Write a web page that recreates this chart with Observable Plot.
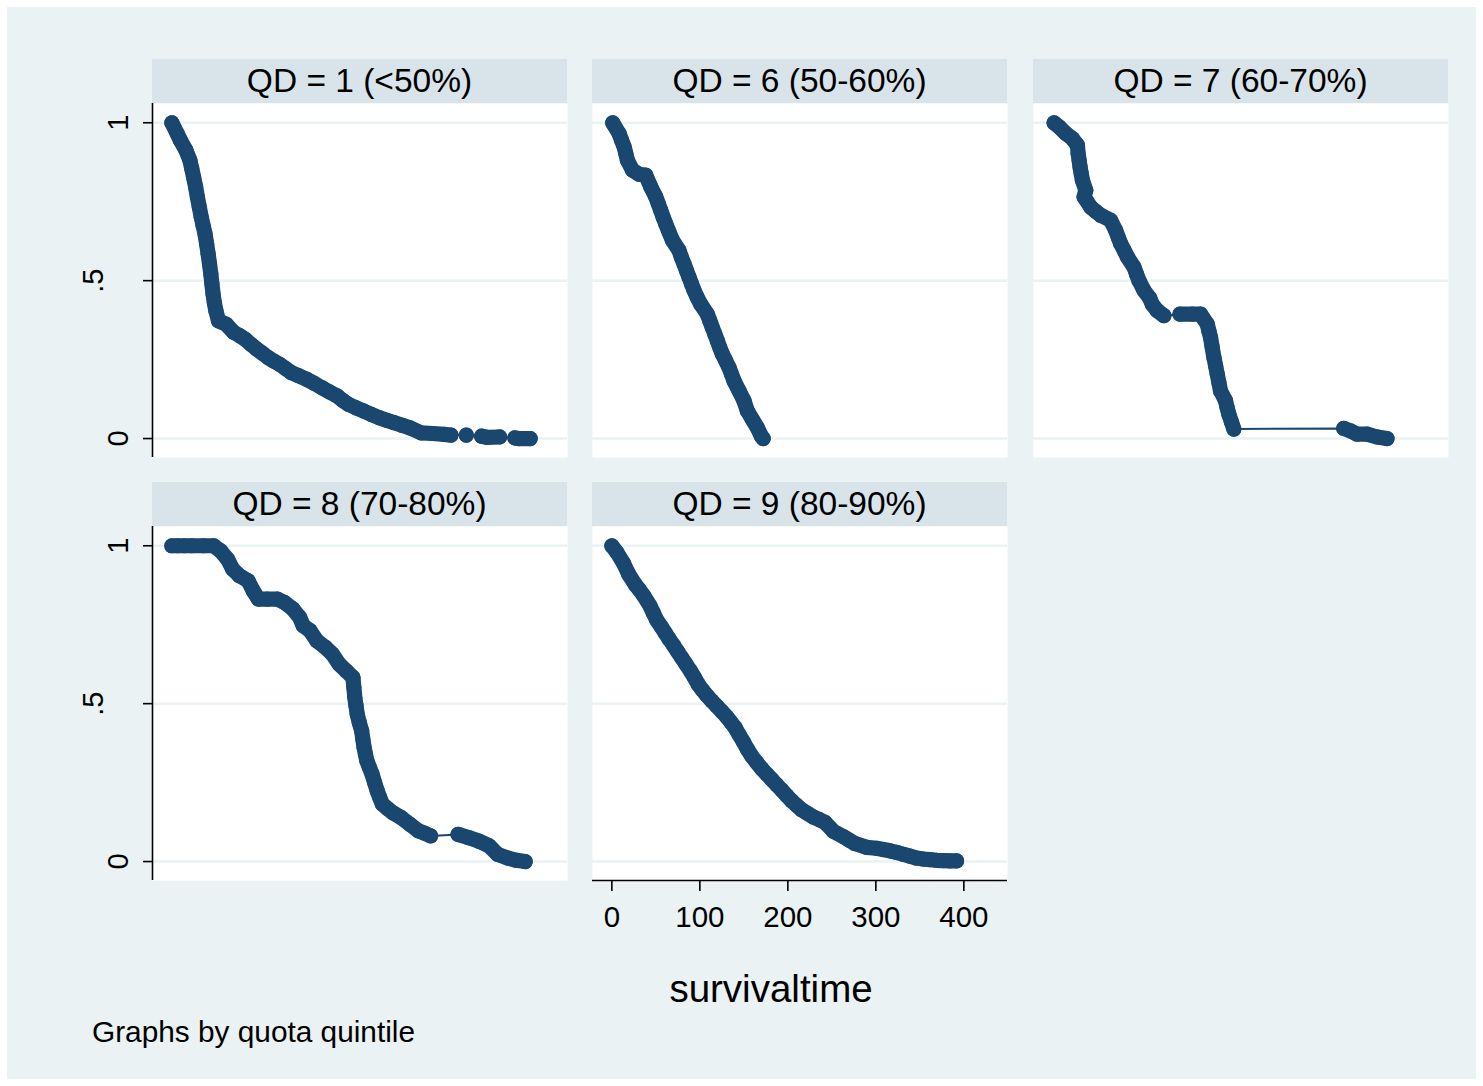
<!DOCTYPE html>
<html>
<head>
<meta charset="utf-8">
<script src="https://cdn.jsdelivr.net/npm/d3@7"></script>
<script src="https://cdn.jsdelivr.net/npm/@observablehq/plot@0.6"></script>
<style>
  html, body { margin: 0; padding: 0; background: #ffffff; }
  #root { position: relative; width: 1483px; height: 1086px; background: #ffffff; font-family: "Liberation Sans", Arial, Helvetica, sans-serif; color: #000; }
  #bg { position: absolute; left: 7px; top: 7px; width: 1469px; height: 1072px; background: #eaf2f3; }
  .strip { position: absolute; height: 44px; line-height: 44px; background: #d9e4ea; text-align: center; font-size: 33.5px; white-space: nowrap; }
  .panel { position: absolute; }
  .panel svg { overflow: visible; background: transparent; }
  .txt { position: absolute; white-space: nowrap; }
</style>
</head>
<body>
<div id="root">
  <div id="bg"></div>
</div>
<script>
// ---------- data ----------
const panelLabels = ["QD = 1 (<50%)", "QD = 6 (50-60%)", "QD = 7 (60-70%)", "QD = 8 (70-80%)", "QD = 9 (80-90%)"];
const xTicks = [0, 100, 200, 300, 400];
const yTicks = [0, 0.5, 1];
const yTickLabels = ["0", ".5", "1"];
const xTitle = "survivaltime";
const note = "Graphs by quota quintile";

// survival time / survival value per quintile
const qd1Time = [0, 6, 9.6, 16, 20.5, 22.6, 24.7, 27, 29, 31.2, 33.4, 35.5, 37.7, 39.5, 41.2, 42.8, 44.3, 45.5, 46.8, 48.3, 50, 53, 61.7, 70.4, 77, 83.5, 90, 96.5, 103, 109.6, 116, 122.6, 129, 135.6, 144, 153, 161.7, 170.4, 179, 187.8, 194, 200.8, 209.5, 218.2, 227, 235.6, 244, 252.9, 261.6, 270.3, 283.3, 296.4, 309.4, 317.2, 334.6, 352, 358, 372.4, 389.8, 394.2, 407.2];
const qd1Surv = [1, 0.966, 0.945, 0.913, 0.881, 0.855, 0.828, 0.797, 0.765, 0.733, 0.701, 0.675, 0.648, 0.617, 0.585, 0.553, 0.521, 0.49, 0.458, 0.43, 0.405, 0.373, 0.362, 0.336, 0.326, 0.314, 0.298, 0.283, 0.27, 0.256, 0.245, 0.235, 0.222, 0.209, 0.199, 0.188, 0.175, 0.161, 0.148, 0.135, 0.121, 0.108, 0.097, 0.087, 0.076, 0.066, 0.058, 0.050, 0.042, 0.034, 0.018, 0.016, 0.013, 0.011, 0.011, 0.0074, 0.004, 0.005, 0.002, 0, 0];

const qd6Time = [1, 8.2, 11, 13.9, 15.8, 17.7, 23.4, 30.9, 38.5, 44.2, 49.9, 52.7, 55.5, 58.3, 61.2, 65, 68.8, 76.3, 79, 82, 84.8, 87.7, 90.5, 93.4, 97, 100.9, 108.5, 111.3, 114.1, 117, 119.8, 122.6, 125.5, 129.3, 133.1, 136, 138.8, 144.4, 150.1, 153.9, 159.6, 165.2, 169.8, 172];
const qd6Surv = [1, 0.966, 0.945, 0.924, 0.903, 0.881, 0.850, 0.837, 0.834, 0.797, 0.765, 0.744, 0.723, 0.701, 0.680, 0.654, 0.628, 0.596, 0.574, 0.553, 0.532, 0.511, 0.490, 0.469, 0.447, 0.426, 0.394, 0.373, 0.352, 0.331, 0.310, 0.289, 0.268, 0.247, 0.225, 0.204, 0.183, 0.152, 0.120, 0.088, 0.061, 0.035, 0.008, 0];

const qd7Time = [1.4, 7.1, 14.7, 22.2, 27.9, 28.7, 29.8, 30.9, 32.2, 33.6, 37.4, 35.5, 43, 48.5, 54.4, 65.7, 71.4, 74.2, 77.1, 81, 84.7, 92.2, 95, 97.9, 103.6, 110, 113, 118.7, 126.2, 144.4, 158.4, 167.8, 175.4, 177.3, 179.2, 181, 183, 185, 186.8, 188.7, 190.5, 196.2, 198, 200, 203, 205.7, 330.5, 338.1, 345.6, 357, 368.3, 379.7];
const qd7Surv = [1, 0.987, 0.966, 0.950, 0.929, 0.903, 0.882, 0.860, 0.839, 0.818, 0.786, 0.765, 0.733, 0.72, 0.707, 0.691, 0.659, 0.638, 0.617, 0.596, 0.575, 0.543, 0.521, 0.500, 0.469, 0.445, 0.425, 0.405, 0.389, 0.394, 0.394, 0.394, 0.363, 0.341, 0.320, 0.29, 0.257, 0.23, 0.204, 0.177, 0.151, 0.120, 0.098, 0.077, 0.052, 0.030, 0.032, 0.024, 0.014, 0.014, 0.005, 0];

const qd8Time = [0, 6.5, 14.3, 22.2, 35.9, 47.6, 55.4, 63.2, 69.1, 76.9, 86.7, 92.5, 98.4, 108.2, 119.9, 127.7, 137.5, 145.3, 149.2, 157, 164.8, 174.6, 182.4, 190.2, 198, 205.8, 206.8, 207.9, 209.2, 210.6, 213, 215.7, 217, 218.4, 220, 221.6, 224.5, 227.5, 230.4, 233.3, 236.2, 239.2, 245, 250.9, 260.7, 270.5, 280.3, 287, 294, 325.2, 337, 348.7, 360.4, 370.2, 382, 391.7, 401.5];
const qd8Surv = [1, 1, 1, 1, 1, 1, 0.984, 0.958, 0.926, 0.905, 0.889, 0.857, 0.831, 0.831, 0.831, 0.821, 0.800, 0.773, 0.747, 0.731, 0.699, 0.678, 0.657, 0.625, 0.604, 0.583, 0.552, 0.520, 0.494, 0.467, 0.44, 0.414, 0.388, 0.362, 0.34, 0.319, 0.298, 0.277, 0.25, 0.224, 0.203, 0.182, 0.168, 0.155, 0.139, 0.118, 0.097, 0.09, 0.081, 0.086, 0.076, 0.065, 0.050, 0.023, 0.011, 0.004, 0];

const qd9Time = [0, 5.7, 13.2, 18.9, 26.5, 31, 35.9, 43.5, 47, 51.1, 56, 60.6, 65, 70, 74.7, 79.5, 84, 89, 93.8, 98.4, 103, 107.9, 113.5, 119.2, 125, 130.6, 135.4, 140.1, 144.8, 149.5, 154, 159, 164.5, 170.3, 176, 181.7, 187.4, 193.1, 198.7, 204.4, 210, 215.7, 222, 229, 235.6, 242.2, 251.7, 263, 269.5, 276.3, 289.5, 300.9, 308.5, 316, 323.5, 331.1, 338.7, 346.3, 354, 361.4, 369, 376.5, 384, 391.7];
const qd9Surv = [1, 0.979, 0.945, 0.911, 0.877, 0.862, 0.843, 0.809, 0.788, 0.764, 0.744, 0.724, 0.705, 0.685, 0.665, 0.645, 0.626, 0.605, 0.583, 0.560, 0.543, 0.526, 0.509, 0.492, 0.475, 0.458, 0.441, 0.424, 0.401, 0.379, 0.356, 0.334, 0.314, 0.294, 0.277, 0.260, 0.243, 0.226, 0.209, 0.192, 0.178, 0.164, 0.153, 0.141, 0.133, 0.124, 0.096, 0.079, 0.068, 0.057, 0.045, 0.042, 0.038, 0.034, 0.029, 0.023, 0.017, 0.011, 0.008, 0.006, 0.004, 0.003, 0.002, 0.002];

// ---------- layout ----------
const navy = "#1a476f";
const xDomain = [-22, 449.6];
const yDomain = [-0.06, 1.061];
const PW = 415, PH = 354;
const colLeft = [152, 592, 1033];
const stripTop = [59, 482];
const plotTop = [103, 526];
const dotR = 7.6;

const panels = [
  {label: panelLabels[0], T: qd1Time, S: qd1Surv, col: 0, row: 0, yAxis: true,  xAxis: false},
  {label: panelLabels[1], T: qd6Time, S: qd6Surv, col: 1, row: 0, yAxis: false, xAxis: false},
  {label: panelLabels[2], T: qd7Time, S: qd7Surv, col: 2, row: 0, yAxis: false, xAxis: false},
  {label: panelLabels[3], T: qd8Time, S: qd8Surv, col: 0, row: 1, yAxis: true,  xAxis: false},
  {label: panelLabels[4], T: qd9Time, S: qd9Surv, col: 1, row: 1, yAxis: false, xAxis: true}
];

const root = document.getElementById("root");
const kx = PW / (xDomain[1] - xDomain[0]);
const ky = PH / (yDomain[1] - yDomain[0]);

for (const p of panels) {
  // data table with runs of touching markers (dense markers form a solid band)
  const data = p.T.map((t, i) => ({t, s: p.S[i]}));
  let run = 0;
  data.forEach((d, i) => {
    if (i > 0) {
      const a = data[i - 1];
      const dist = Math.hypot((d.t - a.t) * kx, (d.s - a.s) * ky);
      if (dist > 14) run++;
    }
    d.run = run;
  });

  const mL = p.yAxis ? 100 : 0;
  const mB = p.xAxis ? 70 : 4;
  const marks = [
    Plot.frame({fill: "white", stroke: "none"}),
    Plot.gridY(yTicks, {stroke: "#eaf2f3", strokeOpacity: 1, strokeWidth: 2.5})
  ];
  if (p.yAxis) {
    marks.push(
      Plot.ruleX([xDomain[0]], {stroke: "black", strokeWidth: 1.6}),
      Plot.axisY({ticks: yTicks, tickSize: 9, tickFormat: () => "", stroke: "black", strokeWidth: 1.6, label: null}),
      Plot.text(yTicks.filter((d, i) => yTickLabels[i].length === 1), {y: d => d, text: d => yTickLabels[yTicks.indexOf(d)], frameAnchor: "left", dx: -34, rotate: -90, textAnchor: "middle", lineAnchor: "middle", fontSize: 29, fill: "black"}),
      Plot.text(yTicks.filter((d, i) => yTickLabels[i].length > 1), {y: d => d, text: d => yTickLabels[yTicks.indexOf(d)], frameAnchor: "left", dx: -59, rotate: -90, textAnchor: "middle", lineAnchor: "middle", fontSize: 29, fill: "black"})
    );
  }
  if (p.xAxis) {
    marks.push(
      Plot.ruleY([yDomain[0]], {stroke: "black", strokeWidth: 1.6}),
      Plot.axisX({ticks: xTicks, tickSize: 11, tickFormat: () => "", stroke: "black", strokeWidth: 1.6, label: null}),
      Plot.text(xTicks, {x: d => d, text: d => String(d), frameAnchor: "bottom", dy: 37, lineAnchor: "middle", fontSize: 29.5, fill: "black"})
    );
  }
  marks.push(
    Plot.line(data, {x: "t", y: "s", stroke: navy, strokeWidth: 2}),
    Plot.line(data, {x: "t", y: "s", z: "run", stroke: navy, strokeWidth: dotR * 2, strokeLinecap: "round", strokeLinejoin: "round"}),
    Plot.dot(data, {x: "t", y: "s", r: dotR, fill: navy, stroke: "none"})
  );

  const chart = Plot.plot({
    width: PW + mL,
    height: PH + mB,
    marginLeft: mL,
    marginRight: 0,
    marginTop: 0,
    marginBottom: mB,
    style: {background: "transparent", fontFamily: "'Liberation Sans', Arial, Helvetica, sans-serif", overflow: "visible"},
    x: {domain: xDomain, axis: null},
    y: {domain: yDomain, axis: null},
    marks
  });

  const strip = document.createElement("div");
  strip.className = "strip";
  strip.style.left = colLeft[p.col] + "px";
  strip.style.top = stripTop[p.row] + "px";
  strip.style.width = PW + "px";
  strip.textContent = p.label;
  root.appendChild(strip);

  const holder = document.createElement("div");
  holder.className = "panel";
  holder.style.left = (colLeft[p.col] - mL) + "px";
  holder.style.top = plotTop[p.row] + "px";
  holder.appendChild(chart);
  root.appendChild(holder);
}

// x axis title and note
const tt = document.createElement("div");
tt.className = "txt";
tt.style.fontSize = "38.5px";
tt.style.left = "771px";
tt.style.top = "989px";
tt.style.transform = "translate(-50%, -50%)";
tt.textContent = xTitle;
root.appendChild(tt);

const nt = document.createElement("div");
nt.className = "txt";
nt.style.fontSize = "29.8px";
nt.style.left = "92px";
nt.style.top = "1032px";
nt.style.transform = "translate(0, -50%)";
nt.textContent = note;
root.appendChild(nt);
</script>
</body>
</html>
